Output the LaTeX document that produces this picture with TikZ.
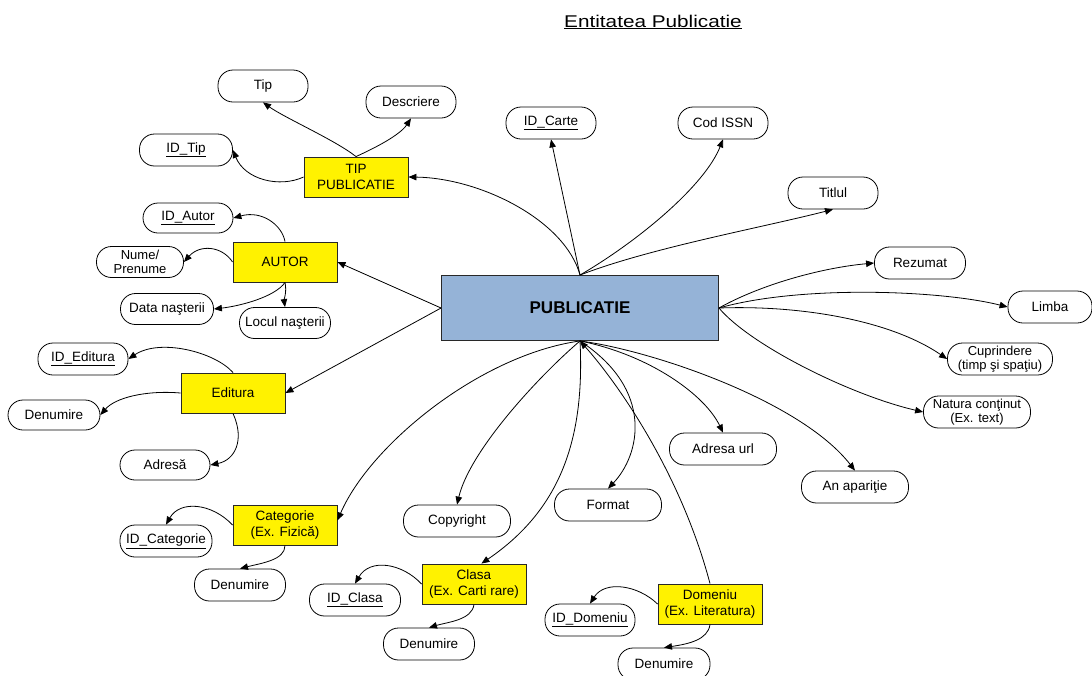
\documentclass[tikz,border=0pt]{standalone}
\usepackage{fontspec}
\setmainfont{Liberation Sans}
\usetikzlibrary{arrows.meta}
\definecolor{pubblue}{RGB}{149,179,215}
\definecolor{edgegray}{RGB}{40,40,40}
\begin{document}
\begin{tikzpicture}[x=1pt,y=-1pt,
  attr/.style={draw=black, line width=0.8pt, fill=white, rounded corners=15pt,
    minimum height=32pt, inner sep=0pt, align=center,
    font=\fontsize{13.5}{14.5}\selectfont},
  entity/.style={draw=edgegray, line width=0.9pt, fill=yellow, minimum width=104pt,
    minimum height=40pt, inner sep=0pt, align=center,
    font=\fontsize{13.5}{16.5}\selectfont},
  link/.style={draw=black, line width=0.8pt, -{Triangle[length=8pt,width=6.5pt]}}]
\useasboundingbox (0,0) rectangle (1092,675);

% title
\node (title) at (653,22) {\scalebox{1.22}[1]{\fontsize{17}{18}\selectfont\underline{Entitatea Publicatie}}};

% central entity
\node[draw=edgegray, line width=0.9pt, fill=pubblue, minimum width=277pt, minimum height=65pt,
  inner sep=0pt, font=\fontsize{17}{18}\selectfont\bfseries] (pub) at (580,308) {PUBLICATIE};

% related entities
\node[entity] (tp)  at (356,177) {TIP\\PUBLICATIE};
\node[entity] (au)  at (285,262) {AUTOR};
\node[entity] (ed)  at (233,393) {Editura};
\node[entity] (cat) at (285,525) {Categorie\\(Ex. Fizică)};
\node[entity] (cl)  at (474,584) {Clasa\\(Ex. Carti rare)};
\node[entity] (dom) at (710,604) {Domeniu\\(Ex. Literatura)};

% attributes of PUBLICATIE
\node[attr, minimum width=90pt]  (idc)   at (551,123) {\underline{ID\_Carte}};
\node[attr, minimum width=90pt]  (issn)  at (723,123) {Cod ISSN};
\node[attr, minimum width=90pt]  (tit)   at (833,193) {Titlul};
\node[attr, minimum width=91pt]  (rez)   at (920,263) {Rezumat};
\node[attr, minimum width=84pt]  (lim)   at (1050,307) {Limba};
\node[attr, minimum width=105pt, font=\fontsize{13}{14.5}\selectfont] (cup) at (1000,359) {Cuprindere\\(timp şi spaţiu)};
\node[attr, minimum width=107pt, font=\fontsize{13}{14.5}\selectfont] (nat) at (977,412) {Natura conţinut\\(Ex. text)};
\node[attr, minimum width=107pt] (an)    at (855,487) {An apariţie};
\node[attr, minimum width=107pt] (url)   at (723,449) {Adresa url};
\node[attr, minimum width=107pt] (fmt)   at (608,505) {Format};
\node[attr, minimum width=107pt] (copy)  at (457,521) {Copyright};

% attributes of TIP PUBLICATIE
\node[attr, minimum width=90pt]  (tip)   at (263,86)  {Tip};
\node[attr, minimum width=90pt]  (desc)  at (411,102) {Descriere};
\node[attr, minimum width=93pt]  (idt)   at (186,150) {\underline{ID\_Tip}};

% attributes of AUTOR
\node[attr, minimum width=90pt, minimum height=30pt] (ida) at (188,218) {\underline{ID\_Autor}};
\node[attr, minimum width=87pt, minimum height=31pt, font=\fontsize{13}{14.5}\selectfont] (nume) at (140,262) {Nume/\\Prenume};
\node[attr, minimum width=93pt, minimum height=31pt] (data) at (167,309) {Data naşterii};
\node[attr, minimum width=91pt, minimum height=31pt] (loc)  at (285,323) {Locul naşterii};

% attributes of Editura
\node[attr, minimum width=90pt]  (ide)   at (83,359)  {\underline{ID\_Editura}};
\node[attr, minimum width=92pt, minimum height=30pt] (den1) at (54,415) {Denumire};
\node[attr, minimum width=90pt, minimum height=30pt] (adr)  at (165,465) {Adresă};

% attributes of Categorie
\node[attr, minimum width=92pt]  (idcat) at (166,541) {\underline{ID\_Categorie}};
\node[attr, minimum width=91pt]  (den2)  at (240,585) {Denumire};

% attributes of Clasa
\node[attr, minimum width=91pt]  (idcl)  at (355,600) {\underline{ID\_Clasa}};
\node[attr, minimum width=91pt]  (den3)  at (429,644) {Denumire};

% attributes of Domeniu
\node[attr, minimum width=90pt]  (iddom) at (590,620) {\underline{ID\_Domeniu}};
\node[attr, minimum width=92pt]  (den4)  at (664,664) {Denumire};

% connectors from PUBLICATIE
\draw[link] (pub.north) .. controls (565,220) and (480,178) .. (tp.east);
\draw[link] (pub.north) -- (idc.south);
\draw[link] (pub.north) .. controls (640,240) and (705,185) .. (issn.south);
\draw[link] (pub.north) .. controls (650,248) and (760,228) .. (tit.south);
\draw[link] (pub.east) .. controls (760,285) and (820,268) .. (rez.west);
\draw[link] (pub.east) .. controls (800,285) and (940,290) .. (lim.west);
\draw[link] (pub.east) .. controls (800,305) and (890,320) .. (cup.west);
\draw[link] (pub.east) .. controls (750,345) and (850,395) .. (nat.west);
\draw[link] (pub.south) .. controls (650,350) and (800,400) .. (an.north);
\draw[link] (pub.south) .. controls (650,355) and (705,395) .. (url.north);
\draw[link] (pub.south) .. controls (655,390) and (640,455) .. (fmt.north);
\draw[link] (pub.south) .. controls (540,375) and (470,450) .. (copy.north);
\draw[link] (pub.south) .. controls (585,440) and (560,510) .. (cl.70);
\draw[link] (pub.south) .. controls (480,355) and (370,445) .. (cat.5);
\draw[link] (dom.north) .. controls (680,470) and (615,380) .. (pub.south);
\draw[link] (pub.west) -- (au.east);
\draw[link] (pub.west) -- (ed.east);

% TIP PUBLICATIE
\draw[link] (tp.north) .. controls (335,140) and (285,118) .. (tip.south);
\draw[link] (tp.north) .. controls (375,148) and (400,135) .. (desc.south);
\draw[link] (tp.west) .. controls (280,188) and (245,180) .. (idt.east);

% AUTOR
\draw[link] (au.north) .. controls (282,225) and (262,210) .. (ida.east);
\draw[link] (au.west) .. controls (222,246) and (200,244) .. (nume.east);
\draw[link] (au.south) .. controls (275,297) and (240,306) .. (data.east);
\draw[link] (au.south) .. controls (287,292) and (284,300) .. (loc.north);

% Editura
\draw[link] (ed.north) .. controls (215,352) and (160,338) .. (ide.east);
\draw[link] (ed.west) .. controls (145,390) and (115,398) .. (den1.east);
\draw[link] (ed.south) .. controls (245,440) and (235,460) .. (adr.east);

% Categorie
\draw[link] (cat.west) .. controls (212,503) and (180,500) .. (idcat.north);
\draw[link] (cat.south) .. controls (285,560) and (262,563) .. (den2.north);

% Clasa
\draw[link] (cl.west) .. controls (402,563) and (370,558) .. (idcl.north);
\draw[link] (cl.south) .. controls (472,620) and (448,622) .. (den3.north);

% Domeniu
\draw[link] (dom.west) .. controls (638,585) and (605,580) .. (iddom.north);
\draw[link] (dom.south) .. controls (708,640) and (688,644) .. (den4.north);
\end{tikzpicture}
\end{document}
